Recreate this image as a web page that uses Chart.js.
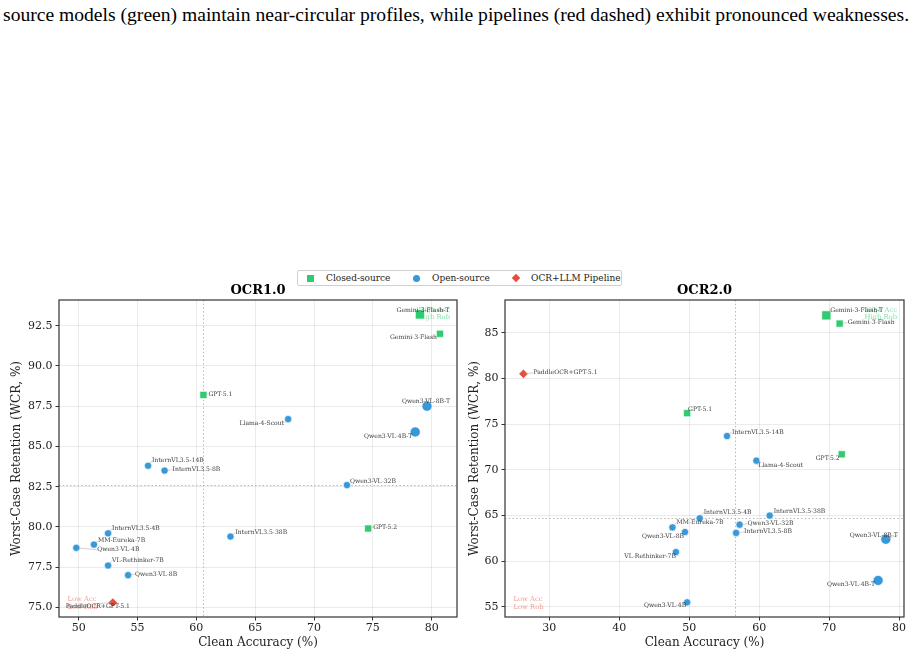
<!DOCTYPE html>
<html>
<head>
<meta charset="utf-8">
<script src="https://cdn.jsdelivr.net/npm/chart.js@4.4.1/dist/chart.umd.min.js"></script>
<style>
  body { margin: 0; background: #fff; }
  #page { position: relative; width: 918px; height: 656px; overflow: hidden; background: #fff; }
  .caption { position: absolute; left: 3px; top: 5px; font-family: "Liberation Serif", serif; font-size: 19.6px; line-height: 20px; white-space: nowrap; color: #000; }
  .legend { position: absolute; left: 297px; top: 270px; width: 323px; height: 14px; border: 1px solid #d0d0d0; border-radius: 2px; font-family: "DejaVu Serif", serif; font-size: 9px; color: #222; }
  .legend span { position: absolute; top: 1px; line-height: 12px; }
  .mk { position: absolute; }
  canvas { position: absolute; }
</style>
</head>
<body>
<div id="page">
  <div class="caption">source models (green) maintain near-circular profiles, while pipelines (red dashed) exhibit pronounced weaknesses.</div>

  <div class="legend">
    <div class="mk" style="left:9px;top:4px;width:7px;height:7px;background:#2ecc71"></div>
    <span style="left:28px">Closed-source</span>
    <div class="mk" style="left:115px;top:4px;width:7px;height:7px;border-radius:50%;background:#3498db"></div>
    <span style="left:134px">Open-source</span>
    <div class="mk" style="left:215px;top:4px;width:6px;height:6px;background:#e74c3c;transform:rotate(45deg)"></div>
    <span style="left:233px">OCR+LLM Pipeline</span>
  </div>

  <canvas id="ocr1" width="460" height="376" style="left:0;top:280px"></canvas>
  <canvas id="ocr2" width="458" height="376" style="left:460px;top:280px"></canvas>
</div>

<script>
// --- dados ---
const models = ['Gemini-3-Flash-T', 'Gemini-3-Flash', 'GPT-5.1', 'GPT-5.2',
  'Qwen3-VL-8B-T', 'Qwen3-VL-4B-T', 'Llama-4-Scout', 'InternVL3.5-38B',
  'InternVL3.5-14B', 'InternVL3.5-8B', 'InternVL3.5-4B', 'Qwen3-VL-32B',
  'Qwen3-VL-8B', 'Qwen3-VL-4B', 'MM-Eureka-7B', 'VL-Rethinker-7B', 'PaddleOCR+GPT-5.1'];
const groups = ['closed', 'closed', 'closed', 'closed',
  'open', 'open', 'open', 'open', 'open', 'open', 'open', 'open',
  'open', 'open', 'open', 'open', 'pipeline'];

const ocr1Clean = [79.0, 80.7, 60.6, 74.6, 79.6, 78.6, 67.8, 62.9, 55.9, 57.3, 52.5, 72.8, 54.2, 49.8, 51.3, 52.5, 52.9];
const ocr1Wcr   = [93.2, 92.0, 88.2, 79.9, 87.5, 85.9, 86.7, 79.4, 83.8, 83.5, 79.6, 82.6, 77.0, 78.7, 78.9, 77.6, 75.3];
const ocr2Clean = [69.6, 71.5, 49.7, 71.8, 78.1, 77.0, 59.6, 61.5, 55.4, 56.7, 51.5, 57.2, 49.4, 49.7, 47.6, 48.1, 26.3];
const ocr2Wcr   = [86.9, 86.0, 76.2, 71.7, 62.4, 57.9, 71.0, 65.0, 73.7, 63.1, 64.7, 64.0, 63.2, 55.5, 63.7, 61.0, 80.5];

// medianas (linhas pontilhadas)
const ocr1Median = [60.6, 82.6];
const ocr2Median = [56.6, 64.7];

// ticks
const ocr1XTicks = [50, 55, 60, 65, 70, 75, 80];
const ocr1YTicks = [75, 77.5, 80, 82.5, 85, 87.5, 90, 92.5];
const ocr2XTicks = [30, 40, 50, 60, 70, 80];
const ocr2YTicks = [55, 60, 65, 70, 75, 80, 85];

// --- estilo ---
const groupStyle = {
  closed:   { label: 'Closed-source', color: '#2ecc71', shape: 'rect', r: 5, rBig: 6.4 },
  open:     { label: 'Open-source', color: '#3498db', shape: 'circle', r: 3.6, rBig: 5 },
  pipeline: { label: 'OCR+LLM Pipeline', color: '#e74c3c', shape: 'rectRot', r: 4.6, rBig: 4.6 }
};

// posição dos rótulos: [alinhamento, dx, dy] em pixels relativos ao ponto
const ocr1LabelPos = {
  'Gemini-3-Flash-T': ['center', 3, -4], 'Gemini-3-Flash': ['right', -3, 4],
  'GPT-5.1': ['left', 5, -1], 'GPT-5.2': ['left', 5, -1],
  'Qwen3-VL-8B-T': ['center', -1, -5], 'Qwen3-VL-4B-T': ['right', -3, 4],
  'Llama-4-Scout': ['right', -4, 4], 'InternVL3.5-38B': ['left', 5, -4],
  'InternVL3.5-14B': ['left', 4, -5], 'InternVL3.5-8B': ['left', 8, -1],
  'InternVL3.5-4B': ['left', 4, -5], 'Qwen3-VL-32B': ['left', 3, -4],
  'Qwen3-VL-8B': ['left', 7, -1], 'Qwen3-VL-4B': ['left', 21, 2],
  'MM-Eureka-7B': ['left', 4, -4], 'VL-Rethinker-7B': ['left', 4, -5],
  'PaddleOCR+GPT-5.1': ['left', -47, 4]
};
const ocr2LabelPos = {
  'Gemini-3-Flash-T': ['left', 4, -5], 'Gemini-3-Flash': ['left', 8, -1],
  'GPT-5.1': ['left', 1, -4], 'GPT-5.2': ['right', -2, 4],
  'Qwen3-VL-8B-T': ['right', 12, -4], 'Qwen3-VL-4B-T': ['right', -3, 4],
  'Llama-4-Scout': ['left', 2, 5], 'InternVL3.5-38B': ['left', 4, -4],
  'InternVL3.5-14B': ['left', 5, -4], 'InternVL3.5-8B': ['left', 8, -1],
  'InternVL3.5-4B': ['left', 4, -6], 'Qwen3-VL-32B': ['left', 8, -1],
  'Qwen3-VL-8B': ['right', -1, 4], 'Qwen3-VL-4B': ['right', -1, 3],
  'MM-Eureka-7B': ['left', 4, -5], 'VL-Rethinker-7B': ['right', 0, 4],
  'PaddleOCR+GPT-5.1': ['left', 10, -1]
};

const SERIF = '"DejaVu Serif", serif';

// Plugin: título, moldura, medianas, cantos e rótulos dos pontos
const decorPlugin = {
  id: 'decor',
  beforeDatasetsDraw(chart, args, o) {
    const { ctx, chartArea: a, scales: { x, y } } = chart;
    ctx.save();
    ctx.strokeStyle = '#b8b8b8';
    ctx.lineWidth = 1;
    ctx.setLineDash([1.5, 2.2]);
    const mx = Math.round(x.getPixelForValue(o.median[0])) + 0.5;
    const my = Math.round(y.getPixelForValue(o.median[1])) + 0.5;
    ctx.beginPath();
    ctx.moveTo(mx, a.top); ctx.lineTo(mx, a.bottom);
    ctx.moveTo(a.left, my); ctx.lineTo(a.right, my);
    ctx.stroke();
    ctx.setLineDash([]);

    // textos dos cantos
    ctx.font = '6.8px ' + SERIF;
    ctx.textBaseline = 'middle';
    ctx.fillStyle = 'rgba(46, 204, 113, 0.6)';
    ctx.textAlign = 'right';
    ctx.fillText('High Acc', a.right - 7, a.top + 10.5);
    ctx.fillText('High Rob', a.right - 7, a.top + 17.5);
    ctx.fillStyle = 'rgba(231, 76, 60, 0.55)';
    ctx.textAlign = 'left';
    ctx.fillText('Low Acc', a.left + 8.5, a.bottom - 17.5);
    ctx.fillText('Low Rob', a.left + 8.5, a.bottom - 10);
    ctx.restore();
  },
  afterDatasetsDraw(chart, args, o) {
    const { ctx } = chart;
    ctx.save();
    ctx.font = '6.1px ' + SERIF;
    ctx.textBaseline = 'middle';
    chart.data.datasets.forEach((ds, i) => {
      const meta = chart.getDatasetMeta(i);
      meta.data.forEach((pt, j) => {
        const name = ds.names[j];
        const [align, dx, dy] = o.labelPos[name] || ['left', 5, -4];
        const tx = pt.x + dx, ty = pt.y + dy;
        // linha de ligação até o texto
        const dist = Math.hypot(tx - pt.x, ty - pt.y);
        if (dist > 5) {
          ctx.strokeStyle = 'rgba(150,150,150,0.7)';
          ctx.lineWidth = 0.6;
          ctx.beginPath();
          ctx.moveTo(pt.x, pt.y);
          ctx.lineTo(tx, ty);
          ctx.stroke();
        }
        ctx.textAlign = align;
        ctx.fillStyle = 'rgba(35,35,35,0.88)';
        ctx.fillText(name, tx, ty);
      });
    });
    ctx.restore();
  },
  afterDraw(chart, args, o) {
    const { ctx, chartArea: a } = chart;
    ctx.save();
    ctx.strokeStyle = '#333';
    ctx.lineWidth = 1.2;
    ctx.strokeRect(a.left, a.top, a.right - a.left, a.bottom - a.top);
    ctx.fillStyle = '#000';
    ctx.font = 'bold 13px ' + SERIF;
    ctx.textAlign = 'center';
    ctx.textBaseline = 'middle';
    ctx.fillText(o.title, (a.left + a.right) / 2, 11);
    ctx.restore();
  }
};

function buildDatasets(clean, wcr) {
  return ['closed', 'open', 'pipeline'].map(g => {
    const st = groupStyle[g];
    const idx = models.map((m, i) => i).filter(i => groups[i] === g);
    return {
      label: st.label,
      names: idx.map(i => models[i]),
      data: idx.map(i => ({ x: clean[i], y: wcr[i] })),
      pointStyle: st.shape,
      pointRadius: idx.map(i => models[i].endsWith('-T') ? st.rBig : st.r),
      backgroundColor: st.color,
      borderColor: '#ffffff',
      borderWidth: 0.6
    };
  });
}

function makeChart(id, cfg) {
  const tickFont = { family: SERIF, size: 11 };
  const titleFont = { family: SERIF, size: 12 };
  const grid = { color: 'rgba(0,0,0,0.1)', lineWidth: 0.8, tickColor: '#333', tickLength: 3.5, tickWidth: 1 };
  new Chart(document.getElementById(id), {
    type: 'scatter',
    data: { datasets: buildDatasets(cfg.clean, cfg.wcr) },
    options: {
      responsive: false,
      animation: false,
      devicePixelRatio: 1,
      layout: { autoPadding: false, padding: { top: 20, right: cfg.padRight, left: 0, bottom: 0 } },
      scales: {
        x: {
          type: 'linear', min: cfg.xRange[0], max: cfg.xRange[1],
          grid: grid, border: { display: false },
          ticks: { color: '#222', font: tickFont, padding: 1, maxRotation: 0 },
          afterBuildTicks: s => { s.ticks = cfg.xTicks.map(v => ({ value: v })); },
          afterFit: s => { s.height = 39; },
          title: { display: true, text: 'Clean Accuracy (%)', color: '#222', font: titleFont, padding: { top: 0, bottom: 5.5 } }
        },
        y: {
          type: 'linear', min: cfg.yRange[0], max: cfg.yRange[1],
          grid: grid, border: { display: false },
          ticks: { color: '#222', font: tickFont, padding: 3, callback: cfg.yFmt },
          afterBuildTicks: s => { s.ticks = cfg.yTicks.map(v => ({ value: v })); },
          afterFit: s => { s.width = cfg.yWidth; },
          title: { display: true, text: 'Worst-Case Retention (WCR, %)', color: '#222', font: titleFont, padding: { top: cfg.yTitlePad, bottom: 0 } }
        }
      },
      plugins: {
        legend: { display: false },
        tooltip: { enabled: false },
        decor: { title: cfg.title, median: cfg.median, labelPos: cfg.labelPos }
      }
    },
    plugins: [decorPlugin]
  });
}

makeChart('ocr1', {
  title: 'OCR1.0', clean: ocr1Clean, wcr: ocr1Wcr, median: ocr1Median,
  xRange: [48.33, 82.15], yRange: [74.4, 94.1], xTicks: ocr1XTicks, yTicks: ocr1YTicks,
  yFmt: v => v.toFixed(1), yWidth: 59, padRight: 3, yTitlePad: 10, labelPos: ocr1LabelPos
});
makeChart('ocr2', {
  title: 'OCR2.0', clean: ocr2Clean, wcr: ocr2Wcr, median: ocr2Median,
  xRange: [23.67, 80.7], yRange: [53.9, 88.58], xTicks: ocr2XTicks, yTicks: ocr2YTicks,
  yFmt: v => String(v), yWidth: 45, padRight: 14, yTitlePad: 8, labelPos: ocr2LabelPos
});
</script>
</body>
</html>
